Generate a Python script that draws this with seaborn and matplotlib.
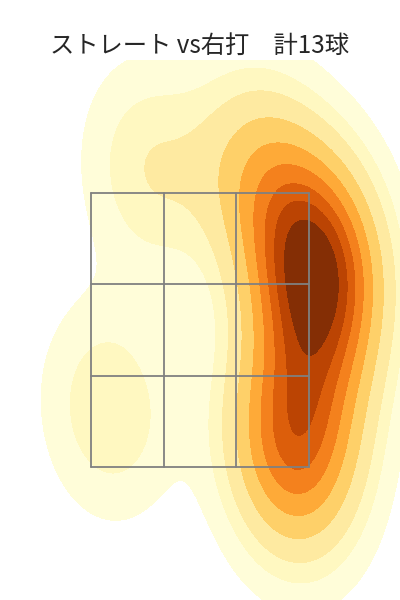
import matplotlib
matplotlib.use("Agg")
import matplotlib.pyplot as plt
import seaborn as sns
import numpy as np
import pandas as pd

# pitch locations (plate_x, plate_z in ft), 13 pitches
plate_x = [0.87, 0.90, 0.83, 0.95, 0.93, 0.71, 0.64, 0.74, 0.84, -0.69, 0.38, -0.38, 0.60]
plate_z = [3.19, 2.90, 2.68, 3.05, 2.61, 1.80, 1.62, 1.40, 1.95, 1.92, 3.74, 3.67, 3.45]

title = "ストレート vs右打　計13球"

# strike zone bounds (ft)
zone_x = [-0.83, 0.83]
zone_z = [1.5, 3.5]

df = pd.DataFrame({"plate_x": plate_x, "plate_z": plate_z})

sns.set_style("white")
plt.rcParams["font.family"] = ["Noto Sans CJK JP", "DejaVu Sans"]

fig = plt.figure(figsize=(4, 6), dpi=100)
ax = fig.add_axes([0, 0, 1, 0.9])
sns.kdeplot(data=df, x="plate_x", y="plate_z", fill=True, cmap="YlOrBr",
            levels=10, thresh=0.05, ax=ax)

# 3x3 strike zone grid
xs = np.linspace(zone_x[0], zone_x[1], 4)
zs = np.linspace(zone_z[0], zone_z[1], 4)
for x in xs:
    ax.plot([x, x], zone_z, color="gray", lw=1.3)
for z in zs:
    ax.plot(zone_x, [z, z], color="gray", lw=1.3)

ax.set_xlim(-1.523, 1.523)
ax.set_ylim(0.53, 4.47)
ax.axis("off")
fig.suptitle(title, fontsize=17.5, y=0.945)

fig.savefig("out.png", dpi=100)
